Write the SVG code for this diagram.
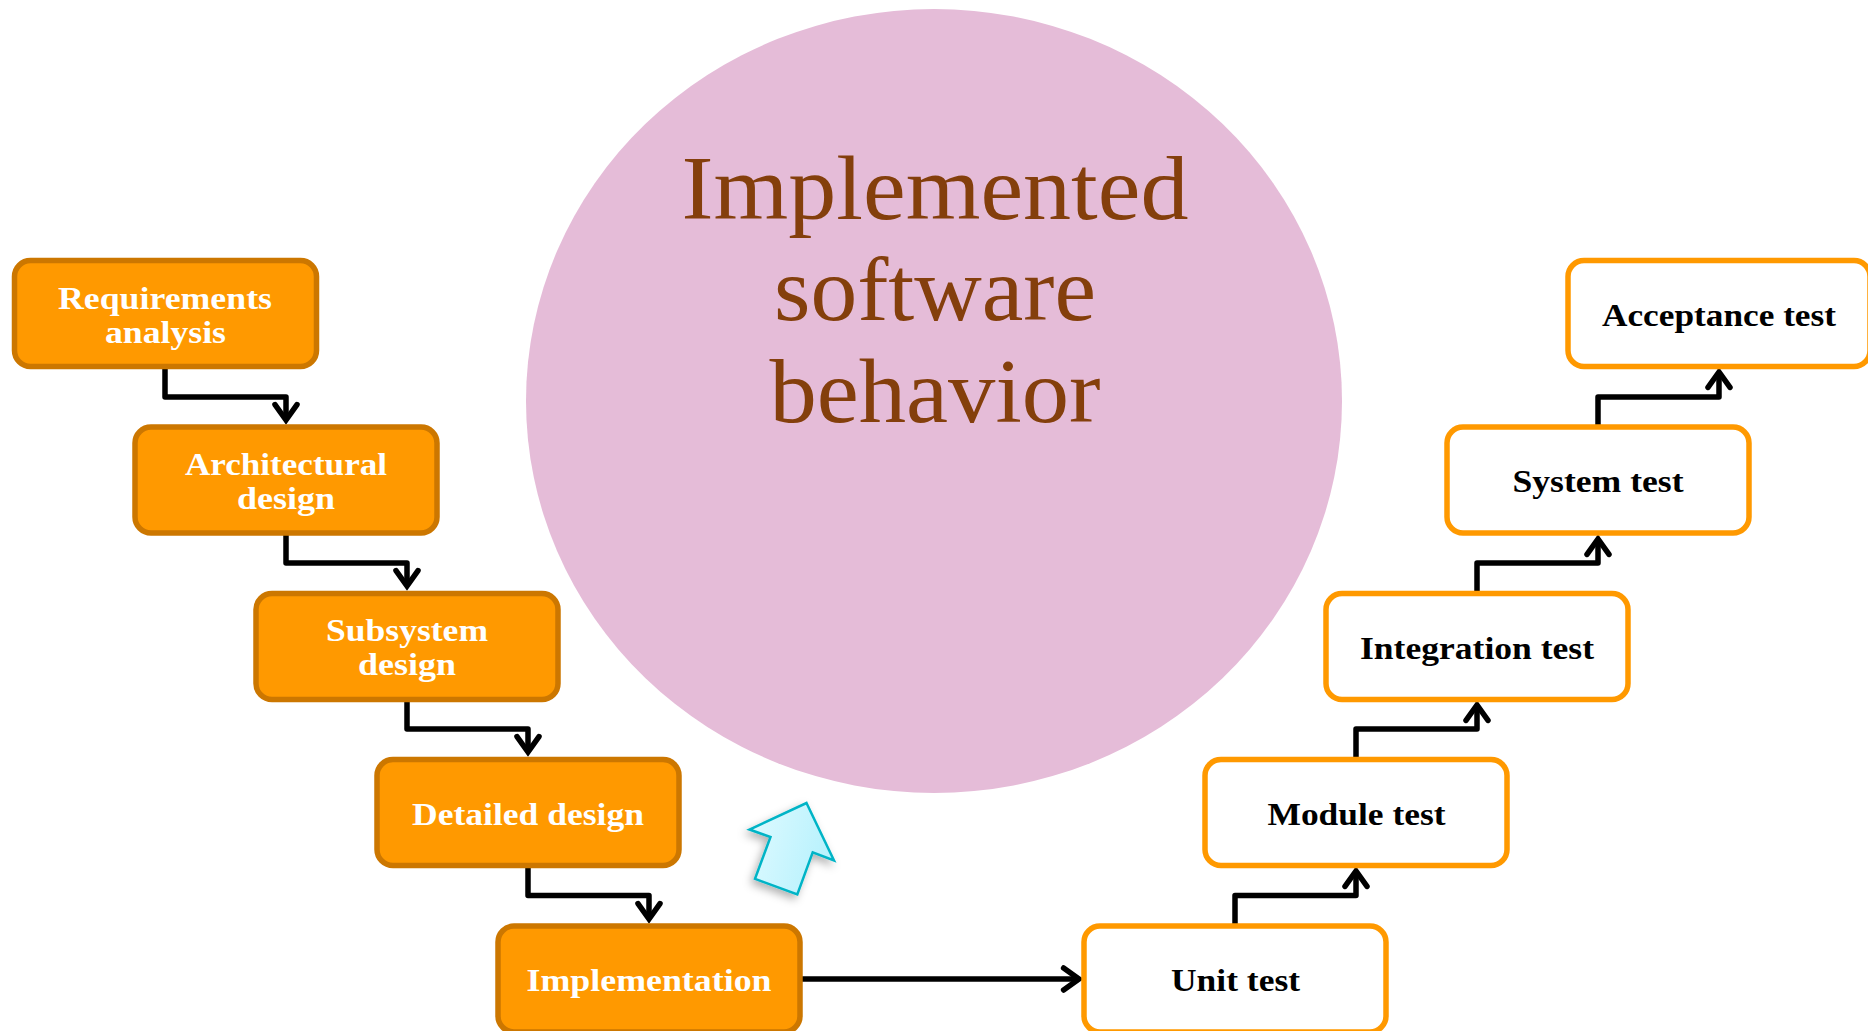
<svg xmlns="http://www.w3.org/2000/svg" width="1868" height="1031" viewBox="0 0 1868 1031">
<style>
.box{stroke-width:5.5}
.l{fill:#ff9900;stroke:#cc7700}
.r{fill:#ffffff;stroke:#ff9900}
text{font-family:"Liberation Serif",serif;text-anchor:middle;font-weight:bold;font-size:31px}
.w{fill:#ffffff}
.k{fill:#000000}
.big{fill:#843f0c;font-weight:normal;font-size:90px}
.c{fill:none;stroke:#000;stroke-width:5.5;stroke-linejoin:round;marker-end:url(#open)}
</style>
<defs>
<marker id="open" markerUnits="strokeWidth" markerWidth="8" markerHeight="8" viewBox="-6 -4 8 8" refX="0" refY="0" orient="auto" overflow="visible">
<path d="M-2.8,-2L0,0L-2.8,2" fill="none" stroke="#000" stroke-width="1" stroke-linecap="round" stroke-linejoin="miter"/>
</marker>
<linearGradient id="ag" x1="0" y1="0" x2="1" y2="0.3">
<stop offset="0" stop-color="#e0faff"/><stop offset="1" stop-color="#b8f2fd"/>
</linearGradient>
<filter id="sh" x="-30%" y="-30%" width="160%" height="160%"><feDropShadow dx="-3" dy="4" stdDeviation="4" flood-color="#000" flood-opacity="0.3"/></filter>
</defs>
<rect width="1868" height="1031" fill="#ffffff"/>
<g id="circle">
<ellipse cx="934" cy="401" rx="408" ry="392" fill="#e5bcd8"/>
<text class="big" x="935" y="219" textLength="507" lengthAdjust="spacingAndGlyphs">Implemented</text>
<text class="big" x="935" y="320" textLength="322" lengthAdjust="spacingAndGlyphs">software</text>
<text class="big" x="935" y="422" textLength="331" lengthAdjust="spacingAndGlyphs">behavior</text>
</g>
<g id="feedback-arrow">
<polygon points="806.5,803 834,860.5 812.7,852.3 797.3,894.5 755,878.8 770.5,837 749.5,829.5" fill="url(#ag)" stroke="#00b4c6" stroke-width="2.5" filter="url(#sh)"/>
</g>
<g id="connectors">
<path class="c" d="M165,367V397H286V420"/>
<path class="c" d="M286,533V563H407V586"/>
<path class="c" d="M407,699V729H528V752"/>
<path class="c" d="M528,866V895.5H649V919"/>
<path class="c" d="M802,979H1079"/>
<path class="c" d="M1235,925V895.5H1356V871"/>
<path class="c" d="M1356,759V729H1477V705"/>
<path class="c" d="M1477,593V563H1598V539"/>
<path class="c" d="M1598,426V397H1719V372"/>
</g>
<g id="n-req"><rect class="box l" x="14.5" y="260.5" width="302" height="106" rx="16"/><text class="w" x="165" y="309" textLength="214" lengthAdjust="spacingAndGlyphs">Requirements</text><text class="w" x="165.5" y="343" textLength="121" lengthAdjust="spacingAndGlyphs">analysis</text></g>
<g id="n-arch"><rect class="box l" x="135" y="427" width="302" height="106" rx="16"/><text class="w" x="286" y="475" textLength="202" lengthAdjust="spacingAndGlyphs">Architectural</text><text class="w" x="286" y="509" textLength="98" lengthAdjust="spacingAndGlyphs">design</text></g>
<g id="n-sub"><rect class="box l" x="256" y="593.5" width="302" height="106" rx="16"/><text class="w" x="407" y="641" textLength="162" lengthAdjust="spacingAndGlyphs">Subsystem</text><text class="w" x="407" y="675" textLength="98" lengthAdjust="spacingAndGlyphs">design</text></g>
<g id="n-det"><rect class="box l" x="377" y="759.5" width="302" height="106" rx="16"/><text class="w" x="528" y="825" textLength="232" lengthAdjust="spacingAndGlyphs">Detailed design</text></g>
<g id="n-impl"><rect class="box l" x="498" y="926" width="302" height="106" rx="16"/><text class="w" x="649" y="991" textLength="245" lengthAdjust="spacingAndGlyphs">Implementation</text></g>
<g id="n-unit"><rect class="box r" x="1084" y="926" width="302" height="106" rx="16"/><text class="k" x="1235.5" y="991" textLength="129" lengthAdjust="spacingAndGlyphs">Unit test</text></g>
<g id="n-mod"><rect class="box r" x="1205" y="759.5" width="302" height="106" rx="16"/><text class="k" x="1356.5" y="825" textLength="178" lengthAdjust="spacingAndGlyphs">Module test</text></g>
<g id="n-int"><rect class="box r" x="1326" y="593.5" width="302" height="106" rx="16"/><text class="k" x="1477" y="659" textLength="234" lengthAdjust="spacingAndGlyphs">Integration test</text></g>
<g id="n-sys"><rect class="box r" x="1447" y="427" width="302" height="106" rx="16"/><text class="k" x="1598" y="492" textLength="171" lengthAdjust="spacingAndGlyphs">System test</text></g>
<g id="n-acc"><rect class="box r" x="1568" y="260.5" width="302" height="106" rx="16"/><text class="k" x="1719" y="326" textLength="234" lengthAdjust="spacingAndGlyphs">Acceptance test</text></g>
</svg>
